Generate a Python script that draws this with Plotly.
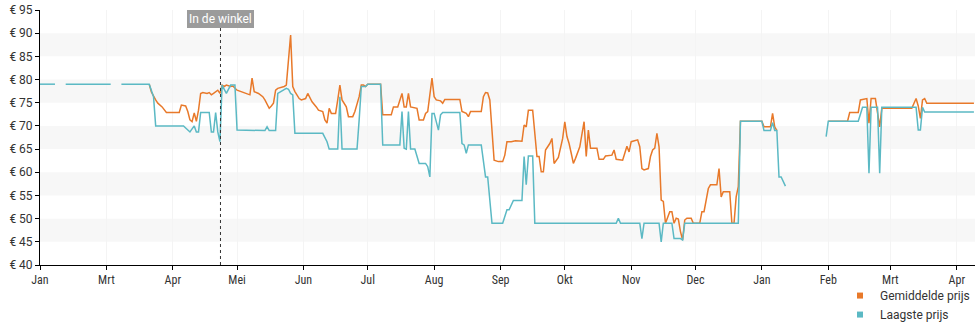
import plotly.graph_objects as go

# ---------------- data ----------------
avg_dates = [
    "2023-03-21", "2023-03-22", "2023-03-24", "2023-03-25", "2023-03-27", "2023-03-29",
    "2023-04-04", "2023-04-05", "2023-04-07", "2023-04-08", "2023-04-09", "2023-04-10",
    "2023-04-11", "2023-04-12", "2023-04-13", "2023-04-14", "2023-04-15", "2023-04-17",
    "2023-04-18", "2023-04-19", "2023-04-20", "2023-04-21", "2023-04-22", "2023-04-23",
    "2023-04-24", "2023-04-25", "2023-04-26", "2023-04-28", "2023-04-29", "2023-05-01",
    "2023-05-03", "2023-05-07", "2023-05-08", "2023-05-09", "2023-05-11", "2023-05-13",
    "2023-05-14", "2023-05-16", "2023-05-17", "2023-05-18", "2023-05-19", "2023-05-20",
    "2023-05-23", "2023-05-24", "2023-05-26", "2023-05-27", "2023-05-28", "2023-05-30",
    "2023-05-31", "2023-06-02", "2023-06-03", "2023-06-05", "2023-06-07", "2023-06-08",
    "2023-06-10", "2023-06-11", "2023-06-12", "2023-06-13", "2023-06-14", "2023-06-16",
    "2023-06-17", "2023-06-18", "2023-06-19", "2023-06-21", "2023-06-22", "2023-06-24",
    "2023-06-25", "2023-06-26", "2023-06-27", "2023-06-28", "2023-06-29", "2023-06-30",
    "2023-07-01", "2023-07-07", "2023-07-08", "2023-07-12", "2023-07-13", "2023-07-15",
    "2023-07-17", "2023-07-18", "2023-07-19", "2023-07-20", "2023-07-21", "2023-07-24",
    "2023-07-25", "2023-07-27", "2023-07-28", "2023-07-29", "2023-07-30", "2023-07-31",
    "2023-08-01", "2023-08-02", "2023-08-04", "2023-08-05", "2023-08-06", "2023-08-13",
    "2023-08-14", "2023-08-16", "2023-08-17", "2023-08-18", "2023-08-23", "2023-08-24",
    "2023-08-25", "2023-08-26", "2023-08-27", "2023-08-28", "2023-08-29", "2023-08-31",
    "2023-09-02", "2023-09-03", "2023-09-04", "2023-09-06", "2023-09-08", "2023-09-11",
    "2023-09-12", "2023-09-13", "2023-09-14", "2023-09-16", "2023-09-17", "2023-09-18",
    "2023-09-19", "2023-09-20", "2023-09-21", "2023-09-22", "2023-09-24", "2023-09-25",
    "2023-09-26", "2023-09-27", "2023-09-28", "2023-09-30", "2023-10-01", "2023-10-02",
    "2023-10-03", "2023-10-04", "2023-10-05", "2023-10-06", "2023-10-08", "2023-10-10",
    "2023-10-11", "2023-10-12", "2023-10-13", "2023-10-16", "2023-10-17", "2023-10-19",
    "2023-10-20", "2023-10-23", "2023-10-24", "2023-10-25", "2023-10-28", "2023-10-29",
    "2023-10-30", "2023-10-31", "2023-11-01", "2023-11-04", "2023-11-05", "2023-11-06",
    "2023-11-07", "2023-11-09", "2023-11-10", "2023-11-11", "2023-11-12", "2023-11-13",
    "2023-11-14", "2023-11-15", "2023-11-16", "2023-11-17", "2023-11-18", "2023-11-19",
    "2023-11-20", "2023-11-21", "2023-11-22", "2023-11-23", "2023-11-24", "2023-11-25",
    "2023-11-26", "2023-11-27", "2023-11-29", "2023-11-30", "2023-12-03", "2023-12-04",
    "2023-12-05", "2023-12-07", "2023-12-08", "2023-12-11", "2023-12-12", "2023-12-13",
    "2023-12-14", "2023-12-17", "2023-12-18", "2023-12-19", "2023-12-20", "2023-12-21",
    "2023-12-22", "2024-01-01", "2024-01-02", "2024-01-05", "2024-01-06", "2024-01-07",
    "2024-01-08", "2024-01-20", "2024-02-01", "2024-02-10", "2024-02-11", "2024-02-15",
    "2024-02-16", "2024-02-18", "2024-02-19", "2024-02-20", "2024-02-21", "2024-02-23",
    "2024-02-25", "2024-02-26", "2024-03-11", "2024-03-13", "2024-03-14", "2024-03-15",
    "2024-03-16", "2024-03-17", "2024-03-18", "2024-04-09",
]
avg_prices = [
    79, 77.3, 75.6, 74.9, 74.1, 72.9,
    72.9, 74.5, 74.3, 73.1, 71.3, 70.9,
    72.8, 71.0, 73.4, 77, 77.2, 77,
    77.2, 76.7, 77, 77.4, 77.7, 77,
    78.8, 78.5, 78.8, 78.5, 78.6, 77.7,
    77.4, 76.7, 80.3, 77.4, 77, 76.3,
    75.6, 73.8, 74.3, 74.9, 77.7, 78.1,
    78.5, 78.8, 89.6, 78.5, 77.4, 75.9,
    75.6, 75.9, 77, 75.2, 74.1, 73.4,
    73.1, 71.3, 70.6, 73.8, 72.7, 72.7,
    75.6, 78.8, 75.6, 74.1, 72, 72,
    73.1, 74.5, 76.3, 78.8, 78.8, 78.5,
    79, 79, 72.4, 72.4, 74.1, 74.1,
    77, 74.1, 74.1, 77, 74.1, 73.8,
    71.3, 71.3, 72.7, 73.1, 76.3, 80.3,
    76.3, 75.6, 75.4, 74.9, 75.7, 75.7,
    73.1, 72.7, 72, 73.1, 73.1, 76.3,
    77.2, 77.1, 75.6, 69.8, 62.6, 62.3,
    62.3, 63.7, 66.6, 66.6, 66.8, 66.7,
    70.2, 69.8, 73.4, 73.4, 69.1, 63.4,
    63.4, 60.1, 60.1, 64.8, 66.2, 67.3,
    61.9, 62.6, 63.2, 67.3, 70.9, 67.7,
    66.2, 64.1, 61.9, 63, 65.5, 70.9,
    63.4, 69.1, 65.2, 65.2, 62.8, 62.8,
    63.5, 63.7, 64.8, 62.8, 62.6, 64.1,
    65.6, 64.4, 66.6, 67, 65.5, 60.8,
    60.5, 60.8, 63.4, 64.8, 65.2, 68.4,
    65.5, 54, 53.7, 49, 50.4, 51.5,
    51.5, 49, 50.1, 49.9, 47.2, 45.4,
    49.7, 50.1, 50.1, 49, 49, 51.5,
    51.5, 56.5, 57.3, 57.3, 60.8, 54.7,
    55.8, 55.8, 49, 49, 54.7, 56.9,
    71, 71, 69.8, 69.8, 72.7, 69.8,
    69, None, 71, 71, 72.9, 72.9,
    75.6, 75.9, 75.9, 70.6, 75.9, 75.9,
    69.8, 73.8, 73.8, 75.9, 74.3, 71.6,
    75.6, 75.9, 74.9, 74.9,
]

low_dates = [
    "2023-01-29", "2023-02-05", "2023-02-07", "2023-02-10", "2023-03-03", "2023-03-05",
    "2023-03-08", "2023-03-21", "2023-03-23", "2023-03-24", "2023-04-06", "2023-04-07",
    "2023-04-09", "2023-04-11", "2023-04-12", "2023-04-13", "2023-04-14", "2023-04-18",
    "2023-04-19", "2023-04-20", "2023-04-21", "2023-04-22", "2023-04-23", "2023-04-24",
    "2023-04-25", "2023-04-26", "2023-04-28", "2023-04-30", "2023-05-01", "2023-05-14",
    "2023-05-15", "2023-05-16", "2023-05-19", "2023-05-20", "2023-05-24", "2023-05-25",
    "2023-05-26", "2023-05-27", "2023-05-28", "2023-06-10", "2023-06-12", "2023-06-13",
    "2023-06-17", "2023-06-18", "2023-06-19", "2023-06-26", "2023-06-27", "2023-06-28",
    "2023-06-30", "2023-07-01", "2023-07-07", "2023-07-08", "2023-07-16", "2023-07-17",
    "2023-07-18", "2023-07-19", "2023-07-20", "2023-07-21", "2023-07-23", "2023-07-25",
    "2023-07-28", "2023-07-29", "2023-07-30", "2023-07-31", "2023-08-01", "2023-08-03",
    "2023-08-04", "2023-08-05", "2023-08-13", "2023-08-14", "2023-08-15", "2023-08-16",
    "2023-08-17", "2023-08-23", "2023-08-25", "2023-08-26", "2023-08-28", "2023-09-02",
    "2023-09-04", "2023-09-05", "2023-09-07", "2023-09-11", "2023-09-12", "2023-09-13",
    "2023-09-14", "2023-09-16", "2023-09-17", "2023-10-25", "2023-10-26", "2023-10-27",
    "2023-11-05", "2023-11-06", "2023-11-07", "2023-11-14", "2023-11-15", "2023-11-16",
    "2023-11-20", "2023-11-21", "2023-11-24", "2023-11-25", "2023-11-26", "2023-12-21",
    "2023-12-22", "2024-01-01", "2024-01-02", "2024-01-05", "2024-01-06", "2024-01-07",
    "2024-01-08", "2024-01-09", "2024-01-10", "2024-01-12", "2024-01-20", "2024-01-31",
    "2024-02-01", "2024-02-15", "2024-02-17", "2024-02-19", "2024-02-20", "2024-02-21",
    "2024-02-24", "2024-02-25", "2024-02-26", "2024-03-13", "2024-03-14", "2024-03-15",
    "2024-03-16", "2024-03-17", "2024-04-09",
]
low_prices = [
    79, 79, None, 79, 79, None,
    79, 79, 76.3, 70, 70, 69.5,
    68.7, 70, 68.7, 68.7, 72.9, 72.9,
    68.7, 68.7, 72.9, 68.7, 66.6, 78.8,
    77.7, 77, 78.8, 78.8, 69.1, 69,
    69.8, 69, 69, 77, 78.1, 77.9,
    77, 76.7, 68.4, 68.4, 66.6, 65,
    65, 76.3, 65, 65, 71.3, 78.5,
    78.5, 79, 79, 65.9, 65.9, 73.1,
    65.2, 65, 73.1, 65, 65, 61.9,
    61.9, 61.2, 59, 72.7, 72.7, 69.1,
    72.4, 72.9, 72.9, 66.2, 65.9, 64.1,
    65.9, 65.9, 59, 59, 49, 49,
    51.9, 51.9, 53.9, 53.9, 63.4, 57.3,
    63.5, 63.5, 49, 49, 50.1, 49,
    49, 45.7, 49, 49, 45, 49,
    49, 45.7, 45.7, 45.4, 49, 49,
    71, 71, 69, 69, 70.7, 69,
    69, 59, 59, 57, None, 67.7,
    71, 71, 74, 74, 59.8, 74,
    74, 59.8, 74, 74, 69.1, 69.1,
    74, 73, 73,
]

month_ticks = [
    "2023-01-29", "2023-03-01", "2023-04-01", "2023-05-01", "2023-06-01",
    "2023-07-01", "2023-08-01", "2023-09-01", "2023-10-01", "2023-11-01",
    "2023-12-01", "2024-01-01", "2024-02-01", "2024-03-01", "2024-04-01",
]
month_labels = ["Jan", "Mrt", "Apr", "Mei", "Jun", "Jul", "Aug", "Sep",
                "Okt", "Nov", "Dec", "Jan", "Feb", "Mrt", "Apr"]
price_ticks = [40, 45, 50, 55, 60, 65, 70, 75, 80, 85, 90, 95]
price_labels = ["€ 40", "€ 45", "€ 50", "€ 55", "€ 60", "€ 65",
                "€ 70", "€ 75", "€ 80", "€ 85", "€ 90", "€ 95"]
band_ranges = [(45, 50), (55, 60), (65, 70), (75, 80), (85, 90)]
store_date = "2023-04-23 06:00"
store_label = "In de winkel"

# ---------------- style ----------------
ORANGE = "#e8792a"
TEAL = "#5bb9c4"
TEXT = "#333333"
FONT = "Roboto, Arial, sans-serif"

fig = go.Figure()

fig.add_trace(go.Scatter(
    x=avg_dates, y=avg_prices, mode="lines", name="Gemiddelde prijs",
    line=dict(color=ORANGE, width=1.5), connectgaps=False, showlegend=False,
))
fig.add_trace(go.Scatter(
    x=low_dates, y=low_prices, mode="lines", name="Laagste prijs",
    line=dict(color=TEAL, width=1.5), connectgaps=False, showlegend=False,
))
# legend entries (square swatches)
for name, col in [("Gemiddelde prijs", ORANGE), ("Laagste prijs", TEAL)]:
    fig.add_trace(go.Scatter(
        x=[None], y=[None], mode="markers", name=name,
        marker=dict(symbol="square", size=6, color=col),
    ))

shapes = []
for lo, hi in band_ranges:
    shapes.append(dict(type="rect", xref="paper", yref="y", x0=0, x1=1, y0=lo, y1=hi,
                       fillcolor="#f7f7f7", line=dict(width=0), layer="below"))
shapes.append(dict(type="line", xref="x", yref="paper", x0=store_date, x1=store_date,
                   y0=0, y1=1, line=dict(color="#333333", width=1, dash="dot")))

fig.update_layout(
    width=980, height=325,
    margin=dict(l=40, r=5, t=10, b=60, autoexpand=False),
    paper_bgcolor="white", plot_bgcolor="white",
    font=dict(family=FONT, size=12, color=TEXT),
    shapes=shapes,
    showlegend=True,
    legend=dict(x=1.0, xanchor="right", y=-0.063, yanchor="top",
                bgcolor="rgba(0,0,0,0)", font=dict(size=12, color=TEXT),
                itemwidth=30, tracegroupgap=0),
    annotations=[dict(
        x=store_date, xref="x", y=0.965, yref="paper", text=store_label,
        showarrow=False, font=dict(color="white", size=12, family=FONT),
        bgcolor="#9b9b9b", bordercolor="#9b9b9b", borderpad=1,
        xanchor="center", yanchor="middle",
    )],
)

fig.update_xaxes(
    type="date", range=["2023-01-29", "2024-04-09 12:00"],
    tickmode="array", tickvals=month_ticks, ticktext=month_labels,
    showline=True, linecolor="black", linewidth=1,
    ticks="outside", ticklen=4, tickcolor="black",
    showgrid=True, gridcolor="#f4f4f4", zeroline=False,
    tickfont=dict(family="'Roboto Condensed', 'Liberation Sans Narrow', Roboto, sans-serif",
                  size=12, color=TEXT),
)
fig.update_yaxes(
    range=[40, 95], tickmode="array", tickvals=price_ticks, ticktext=price_labels,
    showline=True, linecolor="black", linewidth=1,
    ticks="outside", ticklen=4, tickcolor="black",
    showgrid=False, zeroline=False,
    tickfont=dict(size=12, color=TEXT),
)

fig.write_html("out.html")
